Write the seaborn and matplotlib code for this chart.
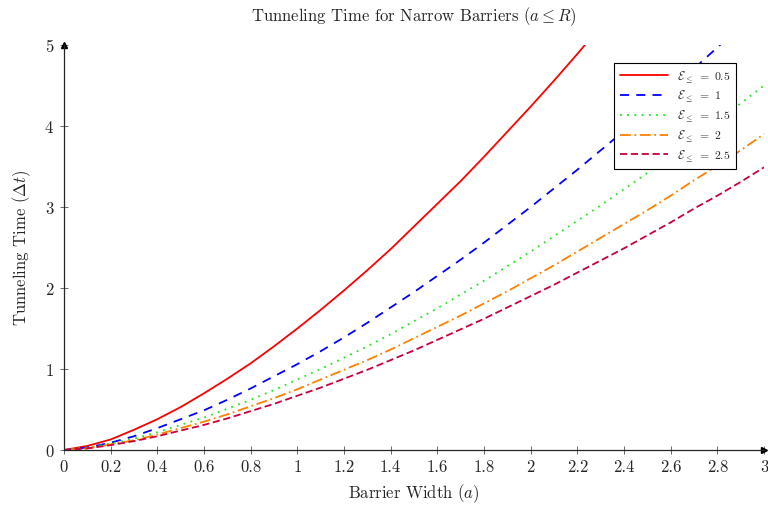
import numpy as np
import pandas as pd
import seaborn as sns
import matplotlib.pyplot as plt

# Values (step 0.1 in barrier width)
barrier_width = [round(0.1 * i, 1) for i in range(31)]
t_e05 = [0, .05, .13, .25, .38, .53, .70, .88, 1.07, 1.28, 1.50, 1.73, 1.97, 2.22, 2.48, 2.76,
         3.04, 3.32, 3.62, 3.93, 4.24, 4.56, 4.89, 5.23, 5.58, 5.93, 6.29, 6.65, 7.03, 7.41, 7.79]
t_e10 = [0, .03, .09, .17, .27, .38, .49, .62, .76, .91, 1.06, 1.22, 1.39, 1.57, 1.76, 1.95,
         2.15, 2.35, 2.56, 2.78, 3.00, 3.23, 3.46, 3.70, 3.94, 4.19, 4.45, 4.71, 4.97, 5.24, 5.51]
t_e15 = [0, .03, .08, .14, .22, .31, .40, .51, .62, .74, .87, 1.00, 1.14, 1.28, 1.43, 1.59,
         1.75, 1.92, 2.09, 2.27, 2.45, 2.64, 2.83, 3.02, 3.22, 3.42, 3.63, 3.84, 4.06, 4.28, 4.50]
t_e20 = [0, .02, .07, .12, .19, .27, .35, .44, .54, .64, .75, .87, .99, 1.11, 1.24, 1.38,
         1.52, 1.66, 1.81, 1.96, 2.12, 2.28, 2.45, 2.62, 2.79, 2.96, 3.14, 3.33, 3.51, 3.70, 3.90]
t_e25 = [0, .02, .06, .11, .17, .24, .31, .39, .48, .57, .67, .77, .88, .99, 1.11, 1.23,
         1.36, 1.49, 1.62, 1.76, 1.90, 2.04, 2.19, 2.34, 2.49, 2.65, 2.81, 2.98, 3.14, 3.31, 3.49]

energies = ["0.5", "1", "1.5", "2", "2.5"]
series = [t_e05, t_e10, t_e15, t_e20, t_e25]
colors = ["#ff0000", "#0000ff", "#1ee61e", "#ff8000", "#c8003c"]
styles = ["-", (0, (5, 4)), (0, (1, 3)), (0, (6, 2, 1, 2)), (0, (4, 2))]

sns.set_style("ticks")
plt.rcParams["font.family"] = "serif"
plt.rcParams["font.serif"] = ["cmr10", "DejaVu Serif"]
plt.rcParams["mathtext.fontset"] = "cm"
plt.rcParams["axes.formatter.use_mathtext"] = True

fig = plt.figure(figsize=(7.68, 5.07), dpi=100)
ax = fig.add_axes([0.0833, 0.1124, 0.9115, 0.7988])

for e, vals, c, ls in zip(energies, series, colors, styles):
    df = pd.DataFrame({"a": barrier_width, "t": vals})
    sns.lineplot(data=df, x="a", y="t", ax=ax, color=c, linestyle=ls, linewidth=1.3,
                 label=r"$\mathcal{E}_{\leq}\ =\ " + e + "$")

ax.set_xlim(0, 3)
ax.set_ylim(0, 5)
ax.set_xticks(np.arange(0, 3.01, 0.2))
ax.set_xticklabels(["0", "0.2", "0.4", "0.6", "0.8", "1", "1.2", "1.4", "1.6", "1.8",
                    "2", "2.2", "2.4", "2.6", "2.8", "3"])
ax.set_yticks(range(6))
ax.tick_params(direction="inout", length=6, width=0.6, color="#555555", labelsize=12, pad=4)

for side in ["top", "right"]:
    ax.spines[side].set_visible(False)
for side in ["left", "bottom"]:
    ax.spines[side].set_linewidth(0.9)
ax.plot(1, 0, ">k", transform=ax.transAxes, clip_on=False, markersize=4)
ax.plot(0, 1, "^k", transform=ax.transAxes, clip_on=False, markersize=4)

ax.set_xlabel(r"Barrier Width $(a)$", fontsize=12, labelpad=5)
ax.set_ylabel(r"Tunneling Time $(\Delta t)$", fontsize=12, labelpad=8)
ax.set_title(r"Tunneling Time for Narrow Barriers $(a \leq R)$", fontsize=12, pad=17)

leg = ax.legend(loc="upper right", bbox_to_anchor=(0.969, 0.97), fontsize=8.5,
                frameon=True, fancybox=False, framealpha=1, edgecolor="black",
                handlelength=4, borderpad=0.5, labelspacing=0.35)
leg.get_frame().set_linewidth(0.8)

fig.savefig("out.png", dpi=100)
